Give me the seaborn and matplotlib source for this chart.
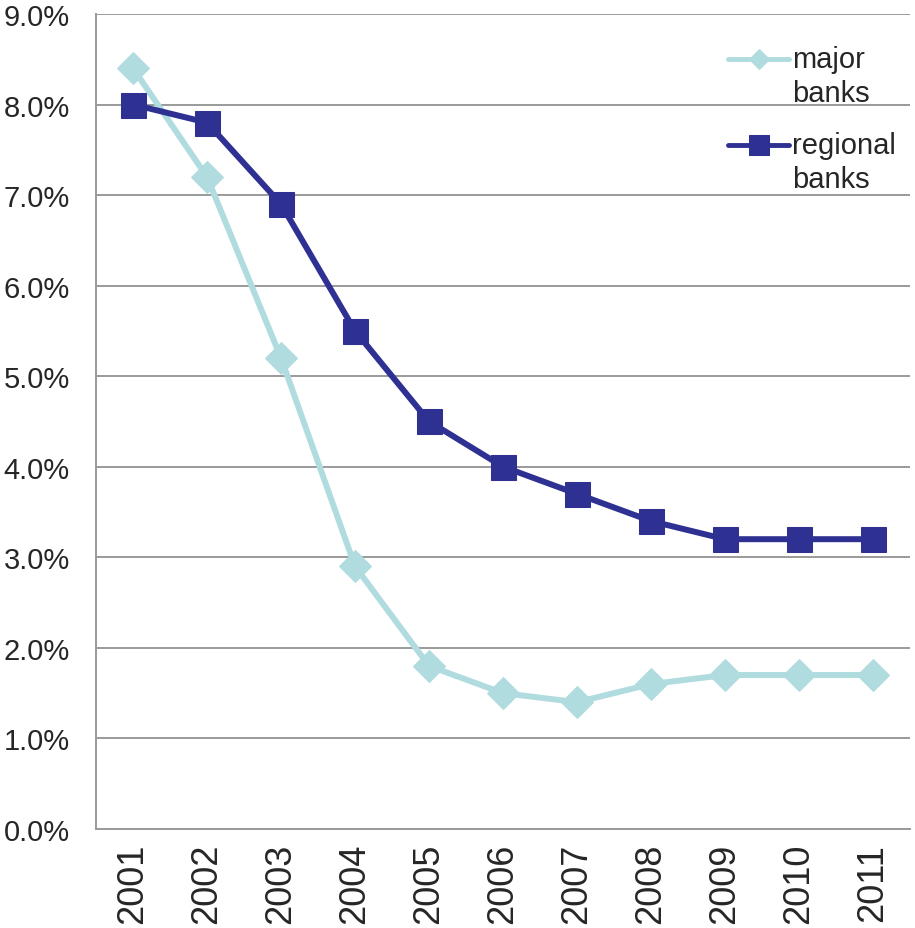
import matplotlib
matplotlib.use("Agg")
import matplotlib.pyplot as plt
import seaborn as sns
import pandas as pd
import numpy as np
from matplotlib.ticker import FuncFormatter, FixedLocator

years = ["2001", "2002", "2003", "2004", "2005", "2006", "2007", "2008", "2009", "2010", "2011"]
major_banks = [8.4, 7.2, 5.2, 2.9, 1.8, 1.5, 1.4, 1.6, 1.7, 1.7, 1.7]
regional_banks = [8.0, 7.8, 6.9, 5.5, 4.5, 4.0, 3.7, 3.4, 3.2, 3.2, 3.2]

df = pd.DataFrame({"pos": list(range(len(years))), "year": years,
                   "major": major_banks, "regional": regional_banks})

sns.set_style("white")
plt.rcParams["font.family"] = ["Liberation Sans", "DejaVu Sans"]

fig = plt.figure(figsize=(9.15, 9.29), dpi=100)
ax = fig.add_axes([0.105, 0.1066, 0.8895, 0.8773])

c_major = "#b0dcdf"
c_reg = "#2e3192"

sns.lineplot(data=df, x="pos", y="major", ax=ax, color=c_major, lw=4.3,
             marker="D", markersize=16, markeredgecolor=c_major, label="major\nbanks")
sns.lineplot(data=df, x="pos", y="regional", ax=ax, color=c_reg, lw=4.3,
             marker="s", markersize=18, markeredgecolor=c_reg, label="regional\nbanks")

ax.set_xlim(-0.5, len(years) - 0.5)
ax.set_ylim(0, 9)
ax.set_yticks(range(0, 10))
ax.yaxis.set_major_formatter(FuncFormatter(lambda v, p: f"{v:.1f}%"))
ax.grid(axis="y", color="#9a9a9a", lw=1.4)
ax.set_axisbelow(True)

ax.set_xticks(range(len(years)))
ax.set_xticklabels(years, rotation=90, fontsize=26)
ax.xaxis.set_minor_locator(FixedLocator([i - 0.5 for i in range(len(years) + 1)]))
ax.tick_params(axis="x", which="major", length=0, pad=10)
ax.tick_params(axis="x", which="minor", length=8, width=1.4, color="#9a9a9a", direction="out")
ax.tick_params(axis="y", length=7, width=1.4, color="#9a9a9a", direction="out", labelsize=21, pad=12)
ax.set_xlabel("")
ax.set_ylabel("")

for s in ["top", "right"]:
    ax.spines[s].set_visible(False)
for s in ["left", "bottom"]:
    ax.spines[s].set_color("#9a9a9a")
    ax.spines[s].set_linewidth(1.4)

leg = ax.legend(loc="upper left", bbox_to_anchor=(0.762, 0.976), frameon=False, fontsize=21,
                handlelength=2.1, handletextpad=0.1, labelspacing=0.84, borderaxespad=0.0)
for t in leg.get_texts():
    t.set_linespacing(1.25)
for ln, ms in zip(leg.get_lines(), [10, 14]):
    ln.set_ydata(np.asarray(ln.get_ydata(), dtype=float) + 13.0)
    ln.set_markersize(ms)
    ln.set_linewidth(3.5)

fig.savefig("out.png", dpi=100)
